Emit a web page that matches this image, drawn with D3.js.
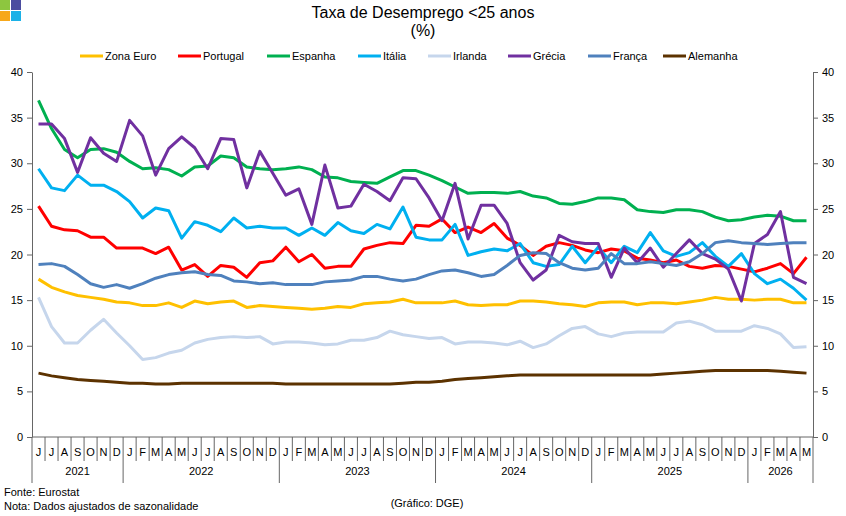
<!DOCTYPE html>
<html><head><meta charset="utf-8">
<script src="https://cdn.jsdelivr.net/npm/d3@7"></script>
<style>
body{margin:0;background:#fff;}
svg{display:block;font-family:"Liberation Sans",Arial,sans-serif;}
</style></head><body>
<svg id="chart" width="846" height="516"></svg>
<script>
// ---- DATA ----
const titleLines = ["Taxa de Desemprego <25 anos", "(%)"];
const seriesNames = ["Zona Euro","Portugal","Espanha","Itália","Irlanda","Grécia","França","Alemanha"];
const seriesColors = ["#FFC000","#FF0000","#00B050","#00B0F0","#C6D6EC","#7030A0","#4F81BD","#5C3200"];
const monthLetters = ["J","F","M","A","M","J","J","A","S","O","N","D"];
const years = [2021,2022,2023,2024,2025,2026];
const startMonth = 6; // June 2021
const nMonths = 60;   // Jun 2021 .. May 2026
const yTicks = [0,5,10,15,20,25,30,35,40];

const zonaEuro = [17.3,16.4,15.9,15.5,15.3,15.1,14.8,14.7,14.4,14.4,14.7,14.2,14.9,14.6,14.8,14.9,14.2,14.4,14.3,14.2,
  14.1,14.0,14.1,14.3,14.2,14.6,14.7,14.8,15.1,14.7,14.7,14.7,14.9,14.5,14.4,14.5,14.5,14.9,14.9,14.8,
  14.6,14.5,14.3,14.7,14.8,14.8,14.5,14.7,14.7,14.6,14.8,15.0,15.3,15.1,15.1,15.0,15.1,15.1,14.7,14.7];
const portugal = [25.3,23.1,22.7,22.6,21.9,21.9,20.7,20.7,20.7,20.1,20.8,18.3,18.9,17.6,18.8,18.6,17.5,19.1,19.3,20.8,
  19.2,20.0,18.5,18.7,18.7,20.6,21.0,21.3,21.2,23.2,23.1,23.9,22.4,23.0,22.4,23.4,21.8,21.0,19.9,20.9,
  21.3,21.0,20.5,20.2,20.6,20.4,19.6,19.4,19.1,19.4,18.7,18.5,18.8,18.7,18.4,18.1,18.5,19.0,17.9,19.7];
const espanha = [36.9,33.8,31.5,30.6,31.5,31.6,31.2,30.2,29.4,29.5,29.3,28.6,29.6,29.7,30.8,30.6,29.6,29.4,29.3,29.4,
  29.6,29.3,28.5,28.4,28.0,27.9,27.8,28.5,29.2,29.2,28.7,28.1,27.4,26.7,26.8,26.8,26.7,26.9,26.4,26.2,
  25.6,25.5,25.8,26.2,26.2,26.0,24.9,24.7,24.6,24.9,24.9,24.7,24.1,23.7,23.8,24.1,24.3,24.2,23.7,23.7];
const italia = [29.4,27.3,27.0,28.7,27.6,27.6,26.9,25.8,24.0,25.1,24.8,21.8,23.6,23.2,22.5,24.0,22.9,23.1,22.9,22.9,
  22.1,22.9,22.1,23.5,22.6,22.3,23.3,22.8,25.2,21.9,21.6,21.6,23.3,19.9,20.3,20.6,20.4,21.2,19.1,18.7,
  18.9,20.9,19.1,20.8,19.1,20.9,20.2,22.4,20.4,19.8,20.2,21.3,19.8,18.7,20.1,17.9,16.8,17.3,16.3,15.0];
const irlanda = [15.3,12.1,10.3,10.3,11.7,12.9,11.4,10.0,8.5,8.7,9.2,9.5,10.3,10.7,10.9,11.0,10.9,11.0,10.2,10.4,
  10.4,10.3,10.1,10.2,10.6,10.6,10.9,11.6,11.2,11.0,10.8,10.9,10.2,10.4,10.4,10.3,10.1,10.5,9.8,10.2,
  11.1,11.9,12.1,11.3,11.0,11.4,11.5,11.5,11.5,12.5,12.7,12.3,11.6,11.6,11.6,12.2,11.9,11.3,9.8,9.9];
const grecia = [34.3,34.3,32.7,29.0,32.8,31.1,30.2,34.7,33.0,28.7,31.6,32.9,31.7,29.4,32.7,32.6,27.3,31.3,28.9,26.5,
  27.2,23.3,29.8,25.1,25.3,27.7,26.9,25.9,28.4,28.3,26.2,23.7,27.8,21.7,25.4,25.4,23.4,19.1,17.2,18.3,
  22.1,21.4,21.2,21.2,17.5,20.7,19.1,20.7,18.6,20.1,21.6,20.1,19.5,18.4,14.9,21.2,22.2,24.7,17.5,16.8];
const franca = [18.9,19.0,18.7,17.8,16.8,16.4,16.7,16.3,16.8,17.4,17.8,18.0,18.1,17.8,17.7,17.1,17.0,16.8,16.9,16.7,
  16.7,16.7,17.0,17.1,17.2,17.6,17.6,17.3,17.1,17.3,17.8,18.2,18.3,18.0,17.6,17.8,18.8,19.9,20.2,20.1,
  19.1,18.5,18.3,18.5,20.1,19.0,19.0,19.2,19.0,18.8,19.2,20.1,21.3,21.5,21.3,21.2,21.1,21.2,21.3,21.3];
const alemanha = [7.0,6.7,6.5,6.3,6.2,6.1,6.0,5.9,5.9,5.8,5.8,5.9,5.9,5.9,5.9,5.9,5.9,5.9,5.9,5.8,
  5.8,5.8,5.8,5.8,5.8,5.8,5.8,5.8,5.9,6.0,6.0,6.1,6.3,6.4,6.5,6.6,6.7,6.8,6.8,6.8,
  6.8,6.8,6.8,6.8,6.8,6.8,6.8,6.8,6.9,7.0,7.1,7.2,7.3,7.3,7.3,7.3,7.3,7.2,7.1,7.0];
const seriesValues = [zonaEuro,portugal,espanha,italia,irlanda,grecia,franca,alemanha];

const sourceText = "Fonte: Eurostat";
const noteText = "Nota: Dados ajustados de sazonalidade";
const creditText = "(Gráfico: DGE)";

// ---- CATEGORIES ----
const categories = d3.range(nMonths).map(i => {
  const m0 = startMonth - 1 + i;
  return {year: years[0] + Math.floor(m0 / 12), month: m0 % 12};
});

// ---- LAYOUT ----
const svg = d3.select("#chart");
const L = 32, R = 813, T = 72, B = 437;
const axisColor = "#666";
const x = d3.scaleBand().domain(d3.range(nMonths)).range([L, R]).padding(0);
const y = d3.scaleLinear().domain([0, 40]).range([B, T]);
const cx = i => x(i) + x.bandwidth() / 2;

// Logo
const logo = svg.append("g");
[["#8DC63F",0,0],["#4B4DA0",11,0],["#F7A81B",0,11],["#1BB1E7",11,11]].forEach(([c,dx,dy]) =>
  logo.append("rect").attr("x", dx).attr("y", dy).attr("width", 10).attr("height", 10).attr("fill", c));

// Title
svg.append("text").attr("x", 423).attr("y", 18).attr("text-anchor", "middle")
  .attr("font-size", 16).attr("fill", "#000").text(titleLines[0]);
svg.append("text").attr("x", 423).attr("y", 36).attr("text-anchor", "middle")
  .attr("font-size", 16).attr("fill", "#000").text(titleLines[1]);

// Axes
const fs = 11;
const yl = svg.append("g").attr("transform", `translate(${L},0)`)
  .call(d3.axisLeft(y).tickValues(yTicks).tickSize(5).tickSizeOuter(0).tickPadding(4));
const yr = svg.append("g").attr("transform", `translate(${R},0)`)
  .call(d3.axisRight(y).tickValues(yTicks).tickSize(5).tickSizeOuter(0).tickPadding(4));
[yl, yr].forEach(g => {
  g.selectAll("text").attr("font-size", fs).attr("font-family", "Liberation Sans, Arial, sans-serif").attr("fill", "#000");
  g.selectAll("line,path").attr("stroke", axisColor);
});

// x axis line
svg.append("line").attr("x1", L).attr("x2", R).attr("y1", B).attr("y2", B).attr("stroke", axisColor);

// category separators
const sepG = svg.append("g");
for (let i = 0; i <= nMonths; i++) {
  const xx = i === nMonths ? R : x(i);
  const major = i === 0 || i === nMonths || categories[i].month === 0;
  sepG.append("line").attr("x1", xx).attr("x2", xx).attr("y1", B).attr("y2", major ? 483 : 461)
    .attr("stroke", axisColor).attr("stroke-width", 1);
}
// month letters
svg.append("g").selectAll("text").data(categories).join("text")
  .attr("x", (d, i) => cx(i)).attr("y", 456).attr("text-anchor", "middle")
  .attr("font-size", fs).text(d => monthLetters[d.month]);
// year labels
svg.append("g").selectAll("text").data(years).join("text")
  .attr("x", yv => {
    const idx = categories.map((c, i) => c.year === yv ? i : -1).filter(i => i >= 0);
    return (x(idx[0]) + x(idx[idx.length - 1]) + x.bandwidth()) / 2;
  })
  .attr("y", 475).attr("text-anchor", "middle").attr("font-size", fs).text(d => d);

// Lines
const line = d3.line().x((d, i) => cx(i)).y(d => y(d));
svg.append("g").selectAll("path").data(seriesValues).join("path")
  .attr("d", d => line(d)).attr("fill", "none")
  .attr("stroke", (d, i) => seriesColors[i]).attr("stroke-width", 3)
  .attr("stroke-linejoin", "round");

// Legend (item start positions, layout only)
const legendX = [80,178,267,358,428,508,588,663];
const lg = svg.append("g").attr("transform", "translate(0,56)");
seriesNames.forEach((n, i) => {
  const g = lg.append("g").attr("transform", `translate(${legendX[i]},0)`);
  g.append("line").attr("x1", 0).attr("x2", 23).attr("y1", 0).attr("y2", 0)
    .attr("stroke", seriesColors[i]).attr("stroke-width", 3);
  g.append("text").attr("x", 25).attr("y", 4).attr("font-size", fs).text(n);
});

// Footer
svg.append("text").attr("x", 4).attr("y", 496).attr("font-size", fs).text(sourceText);
svg.append("text").attr("x", 4).attr("y", 510).attr("font-size", fs).text(noteText);
svg.append("text").attr("x", 427).attr("y", 507).attr("text-anchor", "middle").attr("font-size", fs).text(creditText);
</script>
</body></html>
